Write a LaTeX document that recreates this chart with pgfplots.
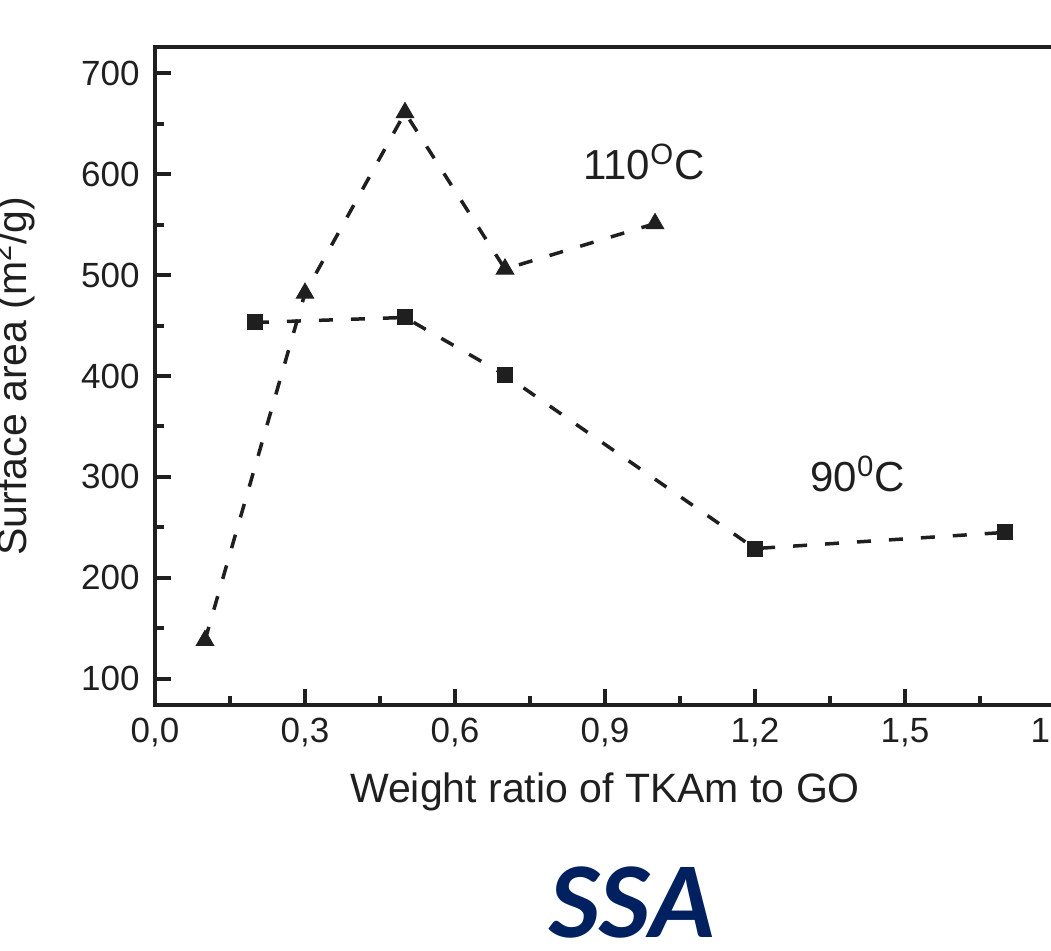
\documentclass[border=0pt]{standalone}
\usepackage{pgfplots}
\pgfplotsset{compat=1.18}
\usepackage{fontspec}
\setmainfont{Liberation Sans}
\newfontfamily\ssafont{Carlito}
\definecolor{titlenavy}{HTML}{002060}
\colorlet{ink}{black!88}

\pgfplotstableread{
x    y
0.2  453
0.5  458
0.7  401
1.2  229
1.7  245
}\tninety
\pgfplotstableread{
x    y
0.1  138
0.3  482
0.5  661
0.7  506
1.0  551
}\toneten

\begin{document}
\begin{tikzpicture}
\useasboundingbox (-77.5pt,-123pt) rectangle (448pt,352.5pt);
\clip (-77.5pt,-123pt) rectangle (448pt,352.5pt);
\begin{axis}[
  scale only axis, width=450pt, height=329pt,
  xmin=0, xmax=1.8, ymin=74, ymax=726,
  xtick={0,0.3,0.6,0.9,1.2,1.5,1.8},
  ytick={100,200,300,400,500,600,700},
  minor x tick num=1, minor y tick num=1,
  tick align=inside, tick pos=left,
  major tick length=8pt, minor tick length=4.5pt,
  axis line style={line width=2pt, ink},
  every tick/.style={line width=2pt, ink},
  /pgf/number format/assume math mode=true,
  tick label style={font=\fontsize{17.5}{21}\selectfont, text=ink, inner sep=0pt},
  xticklabel style={/pgf/number format/.cd, fixed, fixed zerofill, precision=1, use comma, /tikz/.cd, anchor=north, yshift=-6.5pt},
  yticklabel style={anchor=east, xshift=-7.5pt},
  every axis x label/.style={at={(axis description cs:0.5,-0.1018)}, anchor=north, inner sep=0pt, font=\fontsize{20.5}{24}\selectfont, text=ink},
  every axis y label/.style={at={(axis description cs:-0.1822,0.5)}, rotate=90, anchor=north, inner sep=0pt, font=\fontsize{20.5}{24}\selectfont, text=ink},
  xlabel={Weight ratio of TKAm to GO},
  ylabel={Surface area (m\textsuperscript{2}/g)},
]
\addplot[ink, line width=1.75pt, dash pattern=on 7pt off 9pt,
  mark=square*, mark size=3.75pt, mark options={solid, fill=ink, line width=0.5pt}]
  table[x=x, y=y] {\tninety};
\addplot[ink, line width=1.75pt, dash pattern=on 7pt off 9pt,
  mark=triangle*, mark size=5pt, mark options={solid, fill=ink, line width=0.5pt}]
  table[x=x, y=y] {\toneten};
\node[anchor=base west, inner sep=0pt, font=\fontsize{21}{25}\selectfont, text=ink]
  at (axis cs:0.856,595) {110\textsuperscript{O}C};
\node[anchor=base west, inner sep=0pt, font=\fontsize{21}{25}\selectfont, text=ink]
  at (axis cs:1.31,285.5) {90\textsuperscript{0}C};
\end{axis}
\node[anchor=base, inner sep=0pt, text=titlenavy, font=\ssafont\bfseries\itshape\fontsize{54}{60}\selectfont]
  at (238.5pt,-116.5pt) {SSA};
\end{tikzpicture}
\end{document}
